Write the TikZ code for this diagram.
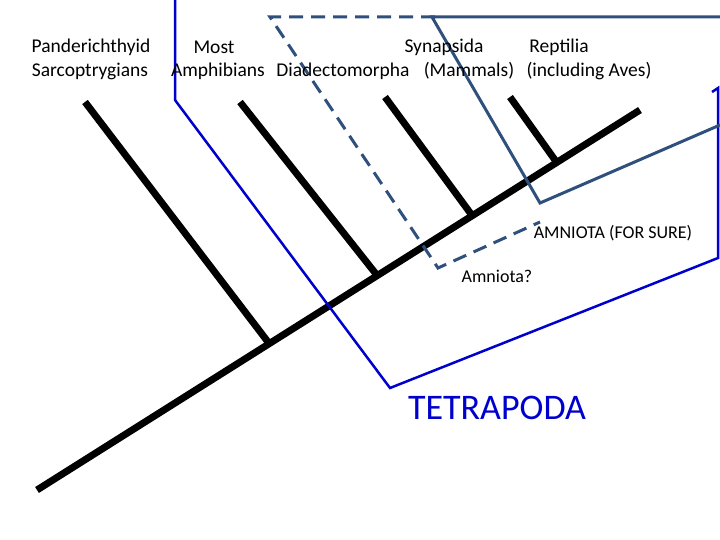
\documentclass[tikz,border=0pt]{standalone}
\usepackage{fontspec}
\setmainfont{Carlito}
\definecolor{amncol}{RGB}{47,80,125}
\begin{document}
\begin{tikzpicture}[x=1pt,y=-1pt,
  br/.style={line width=7pt,black},
  lbl/.style={font=\fontsize{19.5}{24}\selectfont,inner sep=0pt},
  tet/.style={draw=blue!80!black,line width=2.5pt},
  amn/.style={draw=amncol,line width=3pt}]
\useasboundingbox (0,0) rectangle (720,540);
\coordinate (r0) at (37,490); \coordinate (r1) at (640,110);
\draw[br] (r0) -- (r1);
\coordinate (a1) at (85,102); \coordinate (b1) at (268,342);
\coordinate (a2) at (240,102); \coordinate (b2) at (376,274);
\coordinate (a3) at (385,97); \coordinate (b3) at (471,214);
\coordinate (a4) at (510,97); \coordinate (b4) at (555,160);
\draw[br] (a1)--(b1); \draw[br] (a2)--(b2); \draw[br] (a3)--(b3); \draw[br] (a4)--(b4);
\draw[tet] (175,0) -- (175,100) -- (390,388) -- (718,258) -- (718,88) -- (712,92);
\draw[amn,dash pattern=on 14pt off 8pt] (435,17) -- (270,17) -- (438,268) -- (540,222);
\draw[amn] (720,17) -- (432,17) -- (540,203) -- (720,125);
\node[lbl] (t1a) at (91,47) {Panderichthyid};
\node[lbl] (t1b) at (90,71) {Sarcoptrygians};
\node[lbl] (t2a) at (214,47) {Most};
\node[lbl] (t2b) at (218,71) {Amphibians};
\node[lbl] (t3) at (343,71) {Diadectomorpha};
\node[lbl] (t4a) at (444,47) {Synapsida};
\node[lbl] (t4b) at (469,71) {(Mammals)};
\node[lbl] (t5a) at (559,47) {Reptilia};
\node[lbl] (t5b) at (589,71) {(including Aves)};
\node[font=\fontsize{18}{21}\selectfont,inner sep=0pt] (am) at (613,233) {AMNIOTA (FOR SURE)};
\node[font=\fontsize{18}{21}\selectfont,inner sep=0pt] (aq) at (497,276) {Amniota?};
\node[font=\fontsize{36}{40}\selectfont,text=blue!80!black,inner sep=0pt] (tp) at (497,408) {TETRAPODA};
\end{tikzpicture}
\end{document}
